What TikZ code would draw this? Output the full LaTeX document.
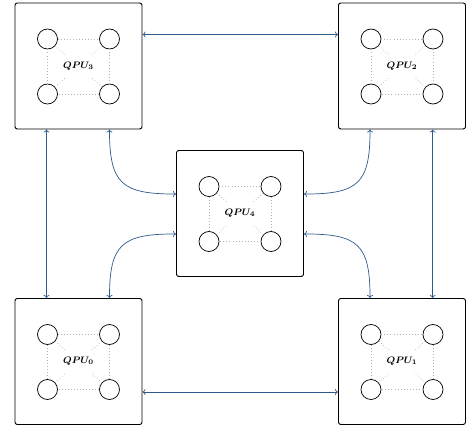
\documentclass[tikz,border=0pt]{standalone}
\usepackage{amsmath,amssymb}
\usepackage{tikz}
\usetikzlibrary{arrows.meta}
\definecolor{linkblue}{RGB}{44,90,140}

\begin{document}
\begin{tikzpicture}[x=0.03cm, y=-0.03cm, >={To[length=2.6pt,width=5pt]},
    qpubox/.style={draw, line width=0.8pt, rounded corners=2pt, minimum width=3.81cm, minimum height=3.78cm},
    qubit/.style={draw, circle, line width=0.6pt, minimum size=0.6cm, inner sep=0pt},
    coupler/.style={gray!60, dotted, line width=0.6pt},
    qlabel/.style={circle, minimum size=1cm, inner sep=0pt, font=\footnotesize},
    link/.style={<->, linkblue, line width=0.6pt}]
    \useasboundingbox (0,0) rectangle (468,428);

    % 五个处理器及其量子比特
    \foreach \n/\x/\y in {0/78.5/361.5, 1/402/361.5, 2/402/66, 3/78.5/66, 4/240/213.5} {
        \node[qpubox] (q\n) at (\x,\y) {};
        \node[qlabel] (q\n-c) at (\x,\y) {$\boldsymbol{QPU_{\n}}$};
        \node[qubit] (q\n-tl) at (\x-31,\y-27) {};
        \node[qubit] (q\n-tr) at (\x+31,\y-27) {};
        \node[qubit] (q\n-bl) at (\x-31,\y+28) {};
        \node[qubit] (q\n-br) at (\x+31,\y+28) {};
        % 比特之间的耦合
        \draw[coupler] (q\n-tl) -- (q\n-tr) -- (q\n-br) -- (q\n-bl) -- (q\n-tl);
        \foreach \b in {tl, tr, bl, br} {
            \draw[coupler] (q\n-\b) -- (q\n-c);
        }
    }

    % 外圈的直线连接
    \draw[link] ([yshift=-0.96cm]q3.north east) -- ([yshift=-0.96cm]q2.north west);
    \draw[link] ([yshift=0.99cm]q0.south east) -- ([yshift=0.99cm]q1.south west);
    \draw[link] ([xshift=0.96cm]q3.south west) -- ([xshift=0.96cm]q0.north west);
    \draw[link] ([xshift=-1cm]q2.south east) -- ([xshift=-1cm]q1.north east);

    % 与中心处理器的曲线连接
    \draw[link] ([xshift=-0.99cm]q3.south east) to[out=-90, in=180, looseness=1.5] ([yshift=-1.32cm]q4.north west);
    \draw[link] ([xshift=-0.99cm]q0.north east) to[out=90, in=180, looseness=1.5] ([yshift=1.29cm]q4.south west);
    \draw[link] ([xshift=0.96cm]q2.south west) to[out=-90, in=0, looseness=1.5] ([yshift=-1.32cm]q4.north east);
    \draw[link] ([xshift=0.96cm]q1.north west) to[out=90, in=0, looseness=1.5] ([yshift=1.29cm]q4.south east);
\end{tikzpicture}
\end{document}
